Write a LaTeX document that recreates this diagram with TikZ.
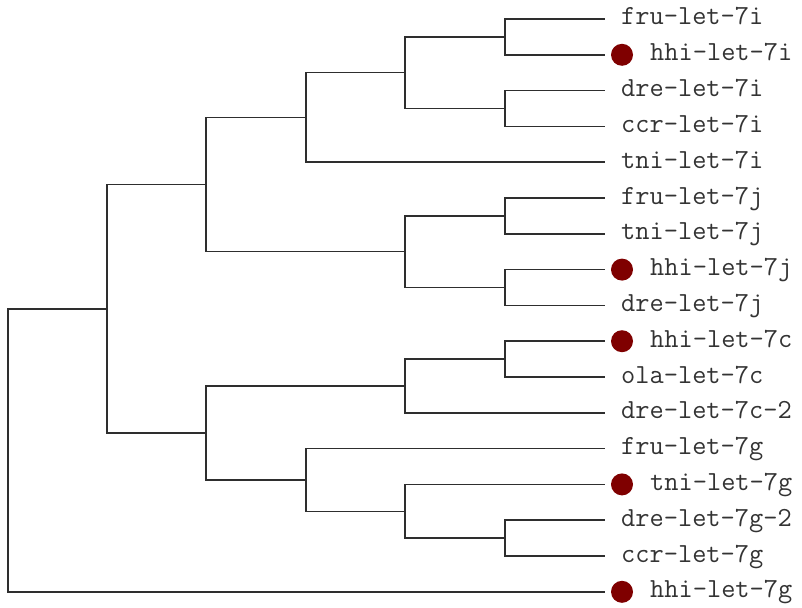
\documentclass[tikz,border=0pt]{standalone}
\usepackage{fontspec}
\definecolor{edge}{HTML}{2E2E2E}
\definecolor{mark}{HTML}{7F0000}
\definecolor{lbl}{HTML}{333333}
\tikzset{
  branch/.style={draw=edge, line width=1.5pt, line cap=rect},
  leaflabel/.style={anchor=base west, inner sep=0pt, font=\ttfamily\fontsize{27.6}{28}\selectfont, text=lbl},
  dotmark/.style={circle, fill=mark, draw=none, minimum size=22pt, inner sep=0pt},
}
\begin{document}
\begin{tikzpicture}[x=1pt, y=-1pt]
\useasboundingbox (0,0) rectangle (802,607);
% leaf tips
\foreach \n [count=\i] in {a,b,c,d,e,f,g,h,i,j,k,l,m,n,o,p,q}{
  \coordinate (t\n) at (604,{19+35.8*(\i-1)});
}
% internal nodes
\coordinate (n1) at (505,36.9);
\coordinate (n2) at (505,108.5);
\coordinate (n3) at (405,72.7);
\coordinate (n4) at (306,117.5);
\coordinate (n5) at (505,215.9);
\coordinate (n6) at (505,287.5);
\coordinate (n7) at (405,251.7);
\coordinate (n8) at (206,184.6);
\coordinate (n9) at (505,359.1);
\coordinate (n10) at (405,386.0);
\coordinate (n11) at (505,538.1);
\coordinate (n12) at (405,511.3);
\coordinate (n13) at (306,480.0);
\coordinate (n14) at (206,433.0);
\coordinate (n15) at (107,308.8);
\coordinate (root) at (8,450.3);
% branches
\draw[branch] (n1) |- (ta); \draw[branch] (n1) |- (tb);
\draw[branch] (n2) |- (tc); \draw[branch] (n2) |- (td);
\draw[branch] (n3) |- (n1); \draw[branch] (n3) |- (n2);
\draw[branch] (n4) |- (n3); \draw[branch] (n4) |- (te);
\draw[branch] (n5) |- (tf); \draw[branch] (n5) |- (tg);
\draw[branch] (n6) |- (th); \draw[branch] (n6) |- (ti);
\draw[branch] (n7) |- (n5); \draw[branch] (n7) |- (n6);
\draw[branch] (n8) |- (n4); \draw[branch] (n8) |- (n7);
\draw[branch] (n9) |- (tj); \draw[branch] (n9) |- (tk);
\draw[branch] (n10) |- (n9); \draw[branch] (n10) |- (tl);
\draw[branch] (n11) |- (to); \draw[branch] (n11) |- (tp);
\draw[branch] (n12) |- (tn); \draw[branch] (n12) |- (n11);
\draw[branch] (n13) |- (tm); \draw[branch] (n13) |- (n12);
\draw[branch] (n14) |- (n10); \draw[branch] (n14) |- (n13);
\draw[branch] (n15) |- (n8); \draw[branch] (n15) |- (n14);
\draw[branch] (root) |- (n15); \draw[branch] (root) |- (tq);
% labels
\node[leaflabel] (la) at ([shift={(17,6)}]ta) {fru-let-7i};
\node[dotmark] (db) at ([xshift=18]tb) {};
\node[leaflabel] (lb) at ([shift={(46,6)}]tb) {hhi-let-7i};
\node[leaflabel] (lc) at ([shift={(17,6)}]tc) {dre-let-7i};
\node[leaflabel] (ld) at ([shift={(17,6)}]td) {ccr-let-7i};
\node[leaflabel] (le) at ([shift={(17,6)}]te) {tni-let-7i};
\node[leaflabel] (lf) at ([shift={(17,6)}]tf) {fru-let-7j};
\node[leaflabel] (lg) at ([shift={(17,6)}]tg) {tni-let-7j};
\node[dotmark] (dh) at ([xshift=18]th) {};
\node[leaflabel] (lh) at ([shift={(46,6)}]th) {hhi-let-7j};
\node[leaflabel] (li) at ([shift={(17,6)}]ti) {dre-let-7j};
\node[dotmark] (dj) at ([xshift=18]tj) {};
\node[leaflabel] (lj) at ([shift={(46,6)}]tj) {hhi-let-7c};
\node[leaflabel] (lk) at ([shift={(17,6)}]tk) {ola-let-7c};
\node[leaflabel] (ll) at ([shift={(17,6)}]tl) {dre-let-7c-2};
\node[leaflabel] (lm) at ([shift={(17,6)}]tm) {fru-let-7g};
\node[dotmark] (dn) at ([xshift=18]tn) {};
\node[leaflabel] (ln) at ([shift={(46,6)}]tn) {tni-let-7g};
\node[leaflabel] (lo) at ([shift={(17,6)}]to) {dre-let-7g-2};
\node[leaflabel] (lp) at ([shift={(17,6)}]tp) {ccr-let-7g};
\node[dotmark] (dq) at ([xshift=18]tq) {};
\node[leaflabel] (lq) at ([shift={(46,6)}]tq) {hhi-let-7g};
\end{tikzpicture}
\end{document}
